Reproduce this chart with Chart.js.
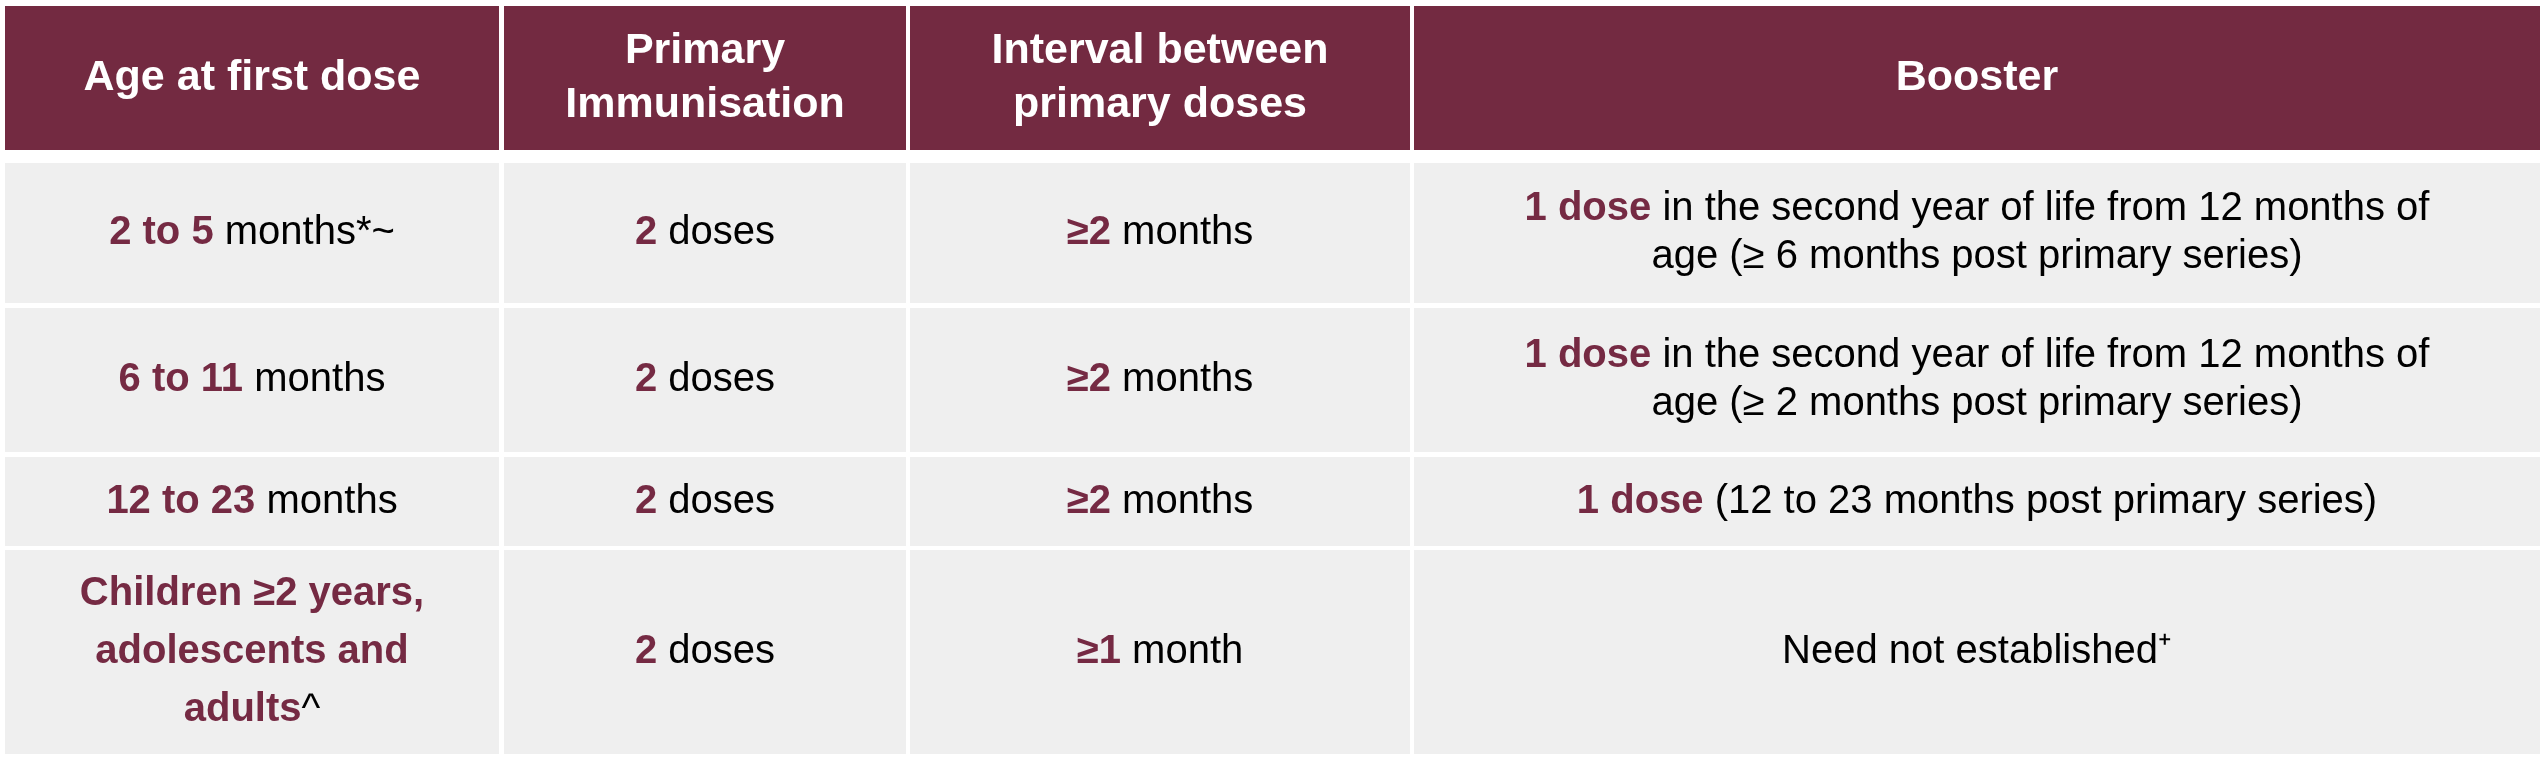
<!DOCTYPE html>
<html>
<head>
<meta charset="utf-8">
<script src="https://cdn.jsdelivr.net/npm/chart.js@4"></script>
<style>
  html, body { margin: 0; padding: 0; background: #fff; }
  #wrap { width: 2543px; height: 768px; }
</style>
</head>
<body>
<div id="wrap"><canvas id="tbl"></canvas></div>
<script>
// table content; **text** = bold maroon
const headers = ['Age at first dose', 'Primary\nImmunisation', 'Interval between\nprimary doses', 'Booster'];
const ageGroups = ['**2 to 5** months*~', '**6 to 11** months', '**12 to 23** months', '**Children ≥2 years,\nadolescents and\nadults**^'];
const primaryDoses = ['**2** doses', '**2** doses', '**2** doses', '**2** doses'];
const intervals = ['**≥2** months', '**≥2** months', '**≥2** months', '**≥1** month'];
const boosters = [
    '**1 dose** in the second year of life from 12 months of\nage (≥ 6 months post primary series)',
    '**1 dose** in the second year of life from 12 months of\nage (≥ 2 months post primary series)',
    '**1 dose** (12 to 23 months post primary series)',
    'Need not established⁺'
];

// layout in page units
const colEdges = [[5, 499], [504, 906], [910, 1410], [1414, 2540]];
const headEdge = [6, 150];
const rowEdges = [[163, 303], [308, 452], [457, 546], [550, 754]];

const MAROON = '#752a43';
const HEAD_BG = '#732a41';
const CELL_BG = '#efefef';
const FONT = '"Liberation Sans", Arial, sans-serif';

function drawRich(ctx, text, cx, cy, size, lineH, baseColor) {
    const lines = text.split('\n');
    let bold = false;
    const y0 = cy - (lines.length - 1) * lineH / 2;
    lines.forEach((line, li) => {
        const parts = line.split('**');
        const runs = [];
        parts.forEach((p, i) => {
            if (i > 0) bold = !bold;
            if (p) runs.push({ t: p, b: bold });
        });
        let w = 0;
        runs.forEach(r => {
            ctx.font = (r.b ? 'bold ' : '') + size + 'px ' + FONT;
            r.w = ctx.measureText(r.t).width;
            w += r.w;
        });
        let x = cx - w / 2;
        runs.forEach(r => {
            ctx.font = (r.b ? 'bold ' : '') + size + 'px ' + FONT;
            ctx.fillStyle = r.b ? MAROON : baseColor;
            ctx.fillText(r.t, x, y0 + li * lineH);
            x += r.w;
        });
    });
}

const tablePlugin = {
    id: 'tablePlugin',
    afterDraw(chart) {
        const ctx = chart.ctx;
        const sx = chart.scales.x, sy = chart.scales.y;
        const px = v => sx.getPixelForValue(v);
        const py = v => sy.getPixelForValue(v);
        ctx.save();
        ctx.textBaseline = 'middle';
        ctx.textAlign = 'left';
        const columns = [ageGroups, primaryDoses, intervals, boosters];
        colEdges.forEach((c, ci) => {
            const x0 = px(c[0]), x1 = px(c[1]);
            // header
            const h0 = py(headEdge[0]), h1 = py(headEdge[1]);
            ctx.fillStyle = HEAD_BG;
            ctx.fillRect(x0, h0, x1 - x0, h1 - h0);
            ctx.font = 'bold 43px ' + FONT;
            ctx.fillStyle = '#fff';
            const hl = headers[ci].split('\n');
            hl.forEach((l, i) => {
                const w = ctx.measureText(l).width;
                ctx.fillText(l, (x0 + x1) / 2 - w / 2, (h0 + h1) / 2 + (i - (hl.length - 1) / 2) * 54);
            });
            // body
            rowEdges.forEach((r, ri) => {
                const y0 = py(r[0]), y1 = py(r[1]);
                ctx.fillStyle = CELL_BG;
                ctx.fillRect(x0, y0, x1 - x0, y1 - y0);
                const txt = columns[ci][ri];
                const lh = txt.split('\n').length > 2 ? 58 : 48;
                drawRich(ctx, txt, (x0 + x1) / 2, (y0 + y1) / 2, 40, lh, '#000');
            });
        });
        ctx.restore();
    }
};

new Chart(document.getElementById('tbl'), {
    type: 'scatter',
    data: { datasets: [{ data: [] }] },
    options: {
        responsive: true,
        maintainAspectRatio: false,
        animation: false,
        layout: { padding: 0 },
        plugins: { legend: { display: false }, tooltip: { enabled: false } },
        scales: {
            x: { type: 'linear', min: 0, max: 2543, display: false },
            y: { type: 'linear', min: 0, max: 768, reverse: true, display: false }
        }
    },
    plugins: [tablePlugin]
});
</script>
</body>
</html>
